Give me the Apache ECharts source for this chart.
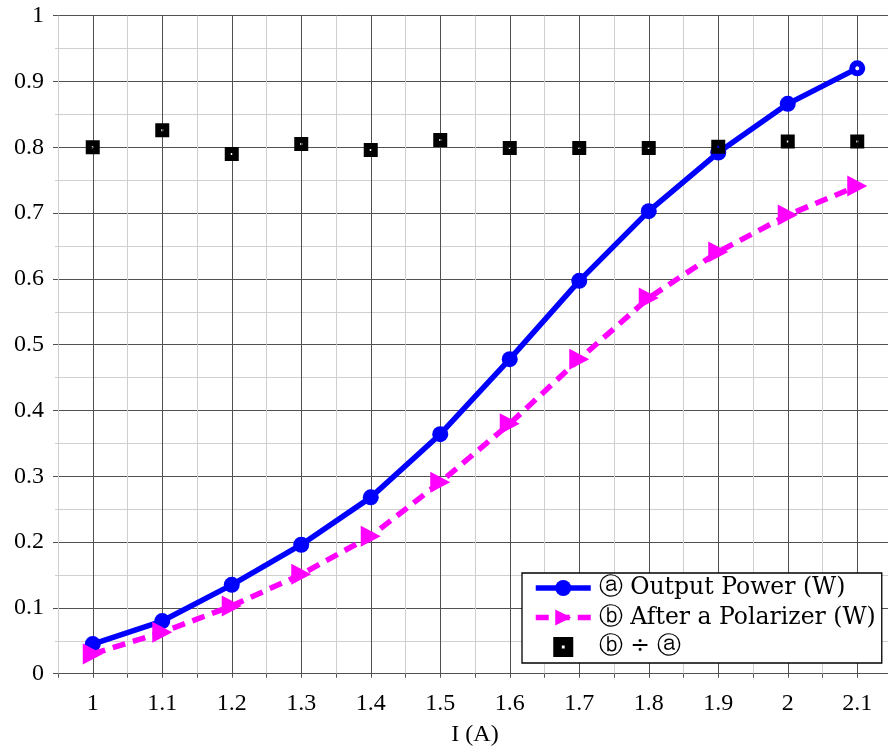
<!DOCTYPE html>
<html>
<head>
<meta charset="utf-8">
<script src="https://cdn.jsdelivr.net/npm/echarts@6/dist/echarts.min.js"></script>
<style>html,body{margin:0;padding:0;background:#fff}#c{width:888px;height:749px}</style>
</head>
<body>
<div id="c"></div>
<script>
const current = [1, 1.1, 1.2, 1.3, 1.4, 1.5, 1.6, 1.7, 1.8, 1.9, 2, 2.1];
const outputPower = [0.045, 0.080, 0.135, 0.196, 0.268, 0.364, 0.478, 0.597, 0.703, 0.792, 0.866, 0.920];
const afterPolarizer = [0.030, 0.063, 0.103, 0.151, 0.209, 0.291, 0.380, 0.478, 0.571, 0.641, 0.697, 0.741];
const ratio = [0.800, 0.826, 0.790, 0.805, 0.796, 0.811, 0.799, 0.799, 0.799, 0.801, 0.809, 0.809];
const seriesNames = ['ⓐ Output Power (W)', 'ⓑ After a Polarizer (W)', 'ⓑ ÷ ⓐ'];
const xName = 'I (A)';

const FONT = '"Liberation Serif", "DejaVu Serif", serif';
const LEGEND_FONT = '"DejaVu Serif", "Liberation Serif", serif';
const MAJOR = '#505050', MINOR = '#cfcfcf';

const pts = (ys) => current.map((x, i) => [x, ys[i]]);
const powerData = pts(outputPower);
const last = powerData.length - 1;
powerData[last] = { value: powerData[last], symbolSize: 10, itemStyle: { color: '#fff', borderColor: '#0000ff', borderWidth: 6 } };

const chart = echarts.init(document.getElementById('c'), null, { renderer: 'canvas' });
chart.setOption({
  animation: false,
  backgroundColor: '#fff',
  textStyle: { fontFamily: FONT },
  grid: { left: 58, top: 15.7, width: 834, height: 658, outerBoundsMode: 'none', containLabel: false },
  xAxis: {
    type: 'value', min: 0.95, max: 2.15, interval: 0.05,
    name: xName, nameLocation: 'middle', nameGap: 49,
    nameTextStyle: { fontFamily: FONT, fontSize: 24, color: '#000' },
    axisLine: { show: false },
    axisTick: { show: true, length: 4, inside: false, lineStyle: { color: MAJOR } },
    axisLabel: {
      fontFamily: FONT, fontSize: 24, color: '#000', margin: 18,
      showMinLabel: true, showMaxLabel: true,
      formatter: (v) => { const k = Math.round(v * 20); return k % 2 === 0 ? String(k / 20) : ''; }
    },
    splitLine: { show: true, lineStyle: { color: [MINOR, MAJOR], width: 1 } }
  },
  yAxis: {
    type: 'value', min: 0, max: 1, interval: 0.1,
    axisLine: { show: false },
    axisTick: { show: true, length: 5, lineStyle: { color: MAJOR } },
    minorTick: { show: true, splitNumber: 2, length: 3, lineStyle: { color: MINOR } },
    axisLabel: { fontFamily: FONT, fontSize: 24, color: '#000', margin: 14 },
    splitLine: { show: true, lineStyle: { color: MAJOR, width: 1 } },
    minorSplitLine: { show: true, lineStyle: { color: MINOR, width: 1 } }
  },
  legend: {
    left: 522, top: 573, orient: 'vertical',
    backgroundColor: '#fff', borderColor: '#000', borderWidth: 1.3, borderRadius: 0,
    padding: [3, 6, 4, 11], itemGap: 5.5, itemWidth: 55, itemHeight: 20,
    lineStyle: { width: 5.5 },
    textStyle: { fontFamily: LEGEND_FONT, fontSize: 23.5, color: '#000', padding: [0, 0, 0, 3] },
    data: seriesNames
  },
  series: [
    {
      name: seriesNames[0], type: 'line', data: powerData,
      symbol: 'circle', symbolSize: 16,
      lineStyle: { color: '#0000ff', width: 5.5 },
      itemStyle: { color: '#0000ff' }, z: 2
    },
    {
      name: seriesNames[1], type: 'line', data: pts(afterPolarizer),
      symbol: 'path://M0,0L10,5L0,10Z', symbolSize: [20, 21],
      lineStyle: { color: '#ff00ff', width: 5.5, type: [13, 8] },
      itemStyle: { color: '#ff00ff' }, z: 3
    },
    {
      name: seriesNames[2], type: 'scatter', data: pts(ratio),
      symbol: 'path://M0,0H14V14H0Z M6,6V8H8V6Z', symbolSize: 14,
      itemStyle: { color: '#000', opacity: 1 }, z: 4
    }
  ]
});
</script>
</body>
</html>
